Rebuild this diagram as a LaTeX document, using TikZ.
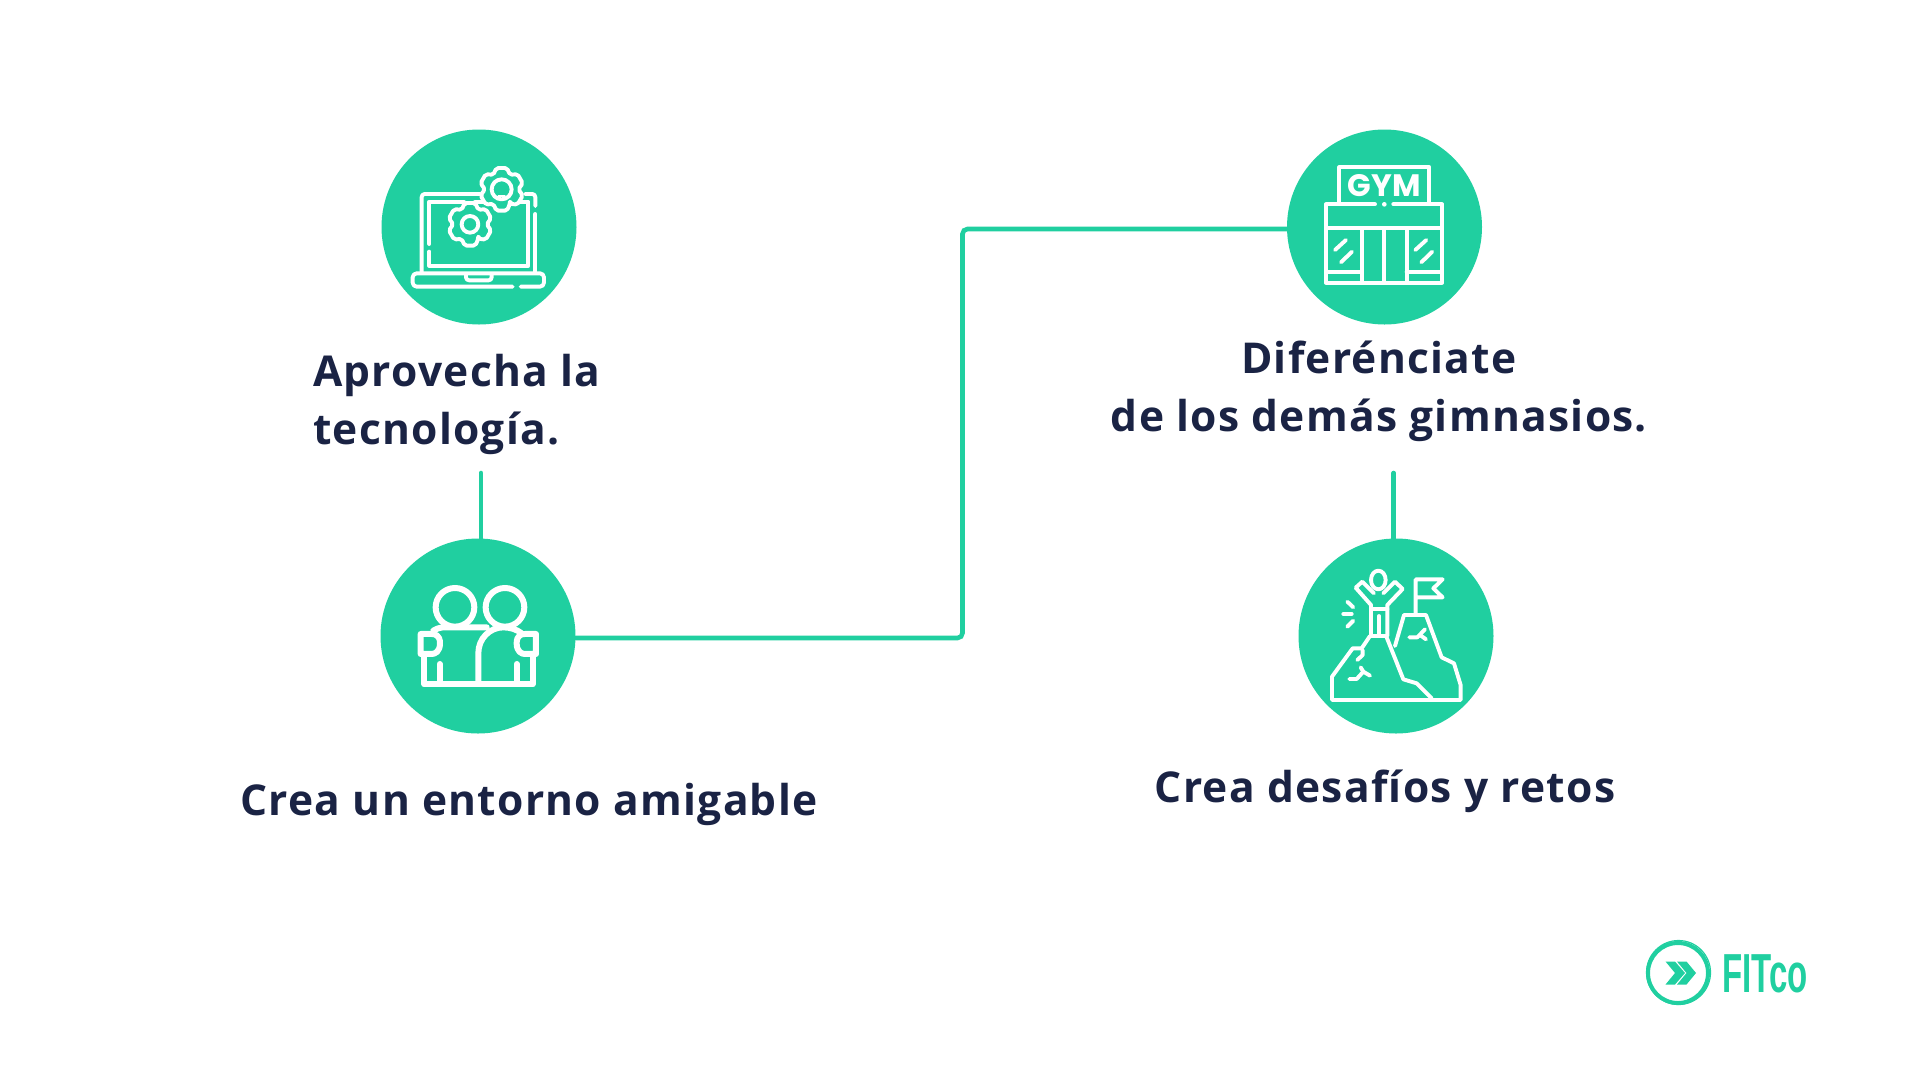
\documentclass[tikz,border=0pt]{standalone}
\usepackage{fontspec}
\setmainfont{Open Sans}[LetterSpace=3]
\newfontfamily\signfont{Poppins}
\newfontfamily\logofont{Liberation Sans}[FakeStretch=0.6]
\definecolor{fitgreen}{RGB}{32,207,160}
\definecolor{fitnavy}{RGB}{26,35,68}
\tikzset{
	badge/.style={circle,fill=fitgreen,minimum size=195pt,inner sep=0pt},
	caption/.style={inner sep=0pt,text=fitnavy,font=\fontsize{42.5}{58}\selectfont\bfseries},
	link/.style={draw=fitgreen,line width=4.6pt,line cap=round},
	icon/.style={draw=white,line width=3.9pt,line cap=round,line join=round},
	iconthick/.style={draw=white,line width=6pt,line cap=round,line join=round},
}
\newcommand{\gearicon}[2]{
	\begin{scope}[shift={#1}]
		\filldraw[icon,fill=fitgreen,rounded corners=2pt] (60:50)
			\foreach \a in {90,150,...,390} {-- (\a-14:66) -- (\a+14:66) -- (\a+30:50)} -- cycle;
		\draw[icon] (0,0) circle (#2);
	\end{scope}
}
\begin{document}
\begin{tikzpicture}[x=1pt,y=-1pt]
	\useasboundingbox (0,0) rectangle (1920,1080);

	\node[badge] (tech) at (479,227) {};
	\node[badge] (friends) at (478,636) {};
	\node[badge] (gym) at (1384.5,227) {};
	\node[badge] (peak) at (1396,636) {};

	\node[caption,anchor=base west] (techtext) at (313,386) {Aprovecha la};
	\node[caption,anchor=base west] (techtextb) at (313,444) {tecnología.};
	\node[caption,anchor=base] (gymtext) at (1379,373) {Diferénciate};
	\node[caption,anchor=base] (gymtextb) at (1379,431) {de los demás gimnasios.};
	\node[caption,anchor=base] (friendstext) at (529,815) {Crea un entorno amigable};
	\node[caption,anchor=base] (peaktext) at (1385,802) {Crea desafíos y retos};

	\coordinate (techend) at (481,473);
	\coordinate (gymend) at (1393.7,473);
	\coordinate (benda) at (962.5,638);
	\coordinate (bendb) at (962.5,229);
	\draw[link] (techend) -- (friends.north -| techend);
	\draw[link] (gymend) -- (peak.north -| gymend);
	\draw[link,rounded corners=5pt] (friends.east |- benda) -- (benda) -- (bendb) -- (gym.west |- bendb);

	\begin{scope}[shift={(340,100)},x=.3333pt,y=-.3333pt]
		\draw[icon,rounded corners=3pt] (245,515) -- (245,282) -- (420,282);
		\draw[icon,rounded corners=3pt] (555,282) -- (586,282) -- (586,318);
		\draw[icon] (586,342) -- (586,515);
		\draw[icon,rounded corners=4pt] (518,560) -- (218,560) -- (218,520) -- (612,520) -- (612,560) -- (542,560);
		\draw[icon,rounded corners=3pt] (378,525) -- (378,541) -- (455,541) -- (455,525);
		\draw[icon] (268,432) -- (268,305) -- (372,305);
		\draw[icon] (405,305) -- (430,305);
		\draw[icon] (540,305) -- (565,305) -- (565,497) -- (268,497) -- (268,455);
		\gearicon{(390,373)}{25}
		\gearicon{(485,268)}{30}
		\draw[icon,line width=1.5pt] (475,288) -- (495,288);
	\end{scope}

	\begin{scope}[shift={(1270,100)},x=.3333pt,y=-.3333pt]
		\draw[icon] (208,308) -- (208,202) -- (478,202) -- (478,308);
		\draw[icon] (315,313) -- (168,313) -- (168,548) -- (516,548) -- (516,313) -- (370,313);
		\fill[white] (343,313) circle (7);
		\draw[icon] (170,385) -- (516,385);
		\foreach \vx in {275,342,410}
			\draw[icon] (\vx,385) -- (\vx,548);
		\draw[icon] (170,515) -- (275,515);
		\draw[icon] (410,515) -- (516,515);
		\foreach \sx in {0,241} {
			\draw[icon] (195+\sx,450) -- (228+\sx,420);
			\draw[icon] (213+\sx,487) -- (246+\sx,455);
		}
		\node[inner sep=0pt,text=white,font=\signfont\fontsize{31}{31}\selectfont] (gymsign) at (343,257) {\textbf{G\kern.5pt Y\kern.5pt M}};
	\end{scope}

	\begin{scope}[shift={(340,510)},x=.3333pt,y=-.3333pt]
		\draw[iconthick] (345,292) circle (58);
		\draw[iconthick] (495,292) circle (58);
		\draw[iconthick,rounded corners=3pt] (280,362) .. controls (300,350) and (315,352) .. (330,352) -- (440,352);
		\draw[iconthick] (415,515) -- (415,430) .. controls (415,385) and (450,352) .. (490,352) .. controls (510,352) and (530,358) .. (545,370);
		\draw[iconthick] (300,400) .. controls (300,375) and (285,372) .. (275,372) -- (242,372) -- (242,432) -- (275,432) .. controls (285,432) and (300,425) .. (300,400);
		\draw[iconthick] (530,400) .. controls (530,375) and (545,372) .. (555,372) -- (588,372) -- (588,432) -- (555,432) .. controls (545,432) and (530,425) .. (530,400);
		\draw[iconthick] (253,432) -- (253,523) -- (578,523) -- (578,432);
		\draw[iconthick] (299,515) -- (299,462);
		\draw[iconthick] (530,515) -- (530,462);
	\end{scope}

	\begin{scope}[shift={(1270,510)},x=.3333pt,y=-.3333pt]
		\draw[icon] (325,210) ellipse (22 and 28);
		\draw[icon] (303,378) -- (303,285) -- (257,233) -- (277,215) -- (312,250);
		\draw[icon] (340,250) -- (375,215) -- (398,237) -- (352,285) -- (352,378) -- (303,378);
		\draw[icon] (303,298) -- (352,298);
		\draw[icon] (327,318) -- (327,375);
		\draw[icon] (300,378) -- (275,415) -- (248,415) -- (186,500) -- (186,570) -- (572,570) -- (572,525) -- (552,460) -- (515,442) -- (468,315) -- (402,315) -- (375,408);
		\draw[icon] (350,382) -- (400,508) -- (440,520) -- (485,565);
		\draw[icon] (278,420) -- (278,435) -- (262,450);
		\draw[icon] (238,507) -- (260,507) -- (280,485) -- (300,497);
		\draw[icon] (280,485) -- (272,472);
		\draw[icon] (418,382) -- (442,382) -- (465,358);
		\draw[icon] (450,375) -- (468,388);
		\draw[icon] (437,315) -- (437,208) -- (518,208) -- (490,235) -- (518,262) -- (437,262);
		\draw[icon] (232,275) -- (250,292);
		\draw[icon] (220,312) -- (245,312);
		\draw[icon] (232,350) -- (250,332);
	\end{scope}

	\draw[fitgreen,line width=4pt] (1678,973) circle (30);
	\draw[fitgreen,line width=1.2pt] (1678.5,972.5) circle (32);
	\fill[fitgreen] (1665.5,961.5) -- (1675,961.5) -- (1685,973) -- (1675,984.5) -- (1665.5,984.5) -- (1675,973) -- cycle;
	\fill[fitgreen] (1677,961.5) -- (1686.5,961.5) -- (1696,973) -- (1686.5,984.5) -- (1677,984.5) -- (1686.5,973) -- cycle;
	\node[inner sep=0pt,anchor=base west,text=fitgreen,font=\logofont\fontsize{55}{55}\selectfont\bfseries] (logotext) at (1722,992) {FITco};
\end{tikzpicture}
\end{document}
